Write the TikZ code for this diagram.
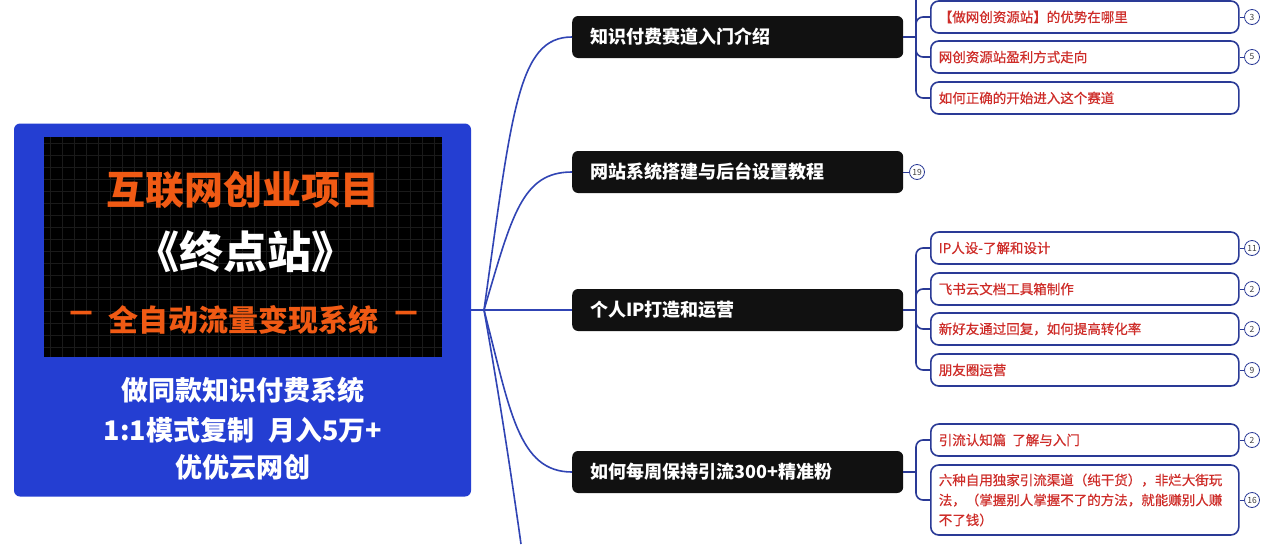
\documentclass[tikz,border=0pt]{standalone}
\usepackage{fontspec}
\setmainfont{Noto Sans CJK SC}
\newfontfamily\medfont[FakeBold=0.5]{Noto Sans CJK SC}
\definecolor{rootblue}{RGB}{36,62,210}
\definecolor{linkblue}{RGB}{48,68,180}
\definecolor{subborder}{RGB}{42,58,150}
\definecolor{subred}{RGB}{206,44,40}
\definecolor{mainblack}{RGB}{17,17,17}
\definecolor{titleorange}{RGB}{240,90,20}
\definecolor{gridgray}{RGB}{26,26,26}
\tikzset{
  mainbox/.style={fill=mainblack, rounded corners=6pt, text=white,
    font=\fontsize{18}{22}\selectfont\bfseries, minimum height=42pt,
    text width=295pt, inner xsep=18pt, align=left, anchor=west},
  subbox/.style={draw=subborder, line width=1.6pt, fill=white, rounded corners=8pt,
    text=subred, font=\medfont\fontsize{13.5}{20}\selectfont, minimum height=32pt,
    text width=292pt, inner xsep=8pt, align=left, anchor=west},
  cnt/.style={circle, draw=subborder, line width=0.8pt, fill=white, minimum size=15pt,
    inner sep=0pt, font=\fontsize{8.5}{8.5}\selectfont, text=black!75},
  link/.style={draw=linkblue, line width=1.6pt},
  sublink/.style={draw=subborder, line width=1.6pt, rounded corners=7pt},
  cntlink/.style={draw=subborder, line width=0.8pt},
  orangetxt/.style={text=titleorange, font=\fontsize{#1}{#1}\selectfont\bfseries},
  whitetxt/.style={text=white, font=\fontsize{#1}{#1}\selectfont\bfseries},
}
\begin{document}
\begin{tikzpicture}[x=1pt,y=-1pt]
\useasboundingbox[fill=white] (0,0) rectangle (1278,544);

% root
\node[fill=rootblue, rounded corners=6pt, minimum width=457pt, minimum height=373pt, inner sep=0pt] (root) at (242.5,310) {};
\node[fill=black, minimum width=398pt, minimum height=220pt, inner sep=0pt] (img) at (243,247) {};
\foreach \gx in {50,62,...,440} \draw[gridgray, line width=0.4pt] (\gx,137) -- (\gx,357);
\foreach \gy in {143,155,...,355} \draw[gridgray, line width=0.4pt] (44,\gy) -- (442,\gy);
\node[orangetxt=39] (t1) at (243,190) {互联网创业项目};
\node[whitetxt=44] (t2) at (245,252) {《终点站》};
\node[orangetxt=30] (t3) at (243,320) {全自动流量变现系统};
\node[orangetxt=30] (d1) at (81,318) {－};
\node[orangetxt=30] (d2) at (406,318) {－};
\node[whitetxt=27] (w1) at (243,390) {做同款知识付费系统};
\node[whitetxt=27] (w2) at (243,430) {1:1模式复制\hspace{14pt}月入5万+};
\node[whitetxt=27] (w3) at (243,467) {优优云网创};

% hub and main branches
\coordinate (hub) at (484,310);
\node[mainbox] (m1) at (572,37) {知识付费赛道入门介绍};
\node[mainbox] (m2) at (572,172) {网站系统搭建与后台设置教程};
\node[mainbox] (m3) at (572,310) {个人IP打造和运营};
\node[mainbox] (m4) at (572,472) {如何每周保持引流300+精准粉};
\coordinate (m5end) at (521,544);

\draw[link] (root.east) -- (hub);
\draw[link] (hub) .. controls (512,110) and (518,37) .. (m1.west);
\draw[link] (hub) .. controls (512,215) and (522,172) .. (m2.west);
\draw[link] (hub) -- (m3.west);
\draw[link] (hub) .. controls (510,410) and (518,472) .. (m4.west);
\draw[link] (hub) .. controls (500,400) and (512,480) .. (m5end);

% group 1
\node[subbox] (s11) at (930,17) {【做网创资源站】的优势在哪里};
\node[subbox] (s12) at (930,57) {网创资源站盈利方式走向};
\node[subbox] (s13) at (930,98) {如何正确的开始进入这个赛道};
\coordinate (j1) at (916,37);
\coordinate (j1top) at (916,0);
\draw[sublink] (m1.east) -- (j1);
\draw[sublink] (j1) -- (j1top);
\draw[sublink] (j1) |- (s11.west);
\draw[sublink] (j1) |- (s12.west);
\draw[sublink] (j1) |- (s13.west);
\node[cnt] (c11) at (1252,17) {3};
\node[cnt] (c12) at (1252,57) {5};
\draw[cntlink] (s11.east) -- (c11.west);
\draw[cntlink] (s12.east) -- (c12.west);

% group 2
\node[cnt] (c2) at (917,172) {19};
\draw[cntlink] (m2.east) -- (c2.west);

% group 3
\node[subbox] (s31) at (930,248) {IP人设-了解和设计};
\node[subbox] (s32) at (930,289) {飞书云文档工具箱制作};
\node[subbox] (s33) at (930,329) {新好友通过回复，如何提高转化率};
\node[subbox] (s34) at (930,370) {朋友圈运营};
\coordinate (j3) at (916,310);
\draw[sublink] (m3.east) -- (j3);
\foreach \s in {s31,s32,s33,s34} \draw[sublink] (j3) |- (\s.west);
\node[cnt] (c31) at (1252,248) {11};
\node[cnt] (c32) at (1252,289) {2};
\node[cnt] (c33) at (1252,329) {2};
\node[cnt] (c34) at (1252,370) {9};
\draw[cntlink] (s31.east) -- (c31.west);
\draw[cntlink] (s32.east) -- (c32.west);
\draw[cntlink] (s33.east) -- (c33.west);
\draw[cntlink] (s34.east) -- (c34.west);

% group 4
\node[subbox] (s41) at (930,440) {引流认知篇\hspace{6pt}了解与入门};
\node[subbox, minimum height=70pt] (s42) at (930,500) {六种自用独家引流渠道（纯干货），非烂大街玩\\法，（掌握别人掌握不了的方法，就能赚别人赚\\不了钱）};
\coordinate (j4) at (916,472);
\draw[sublink] (m4.east) -- (j4);
\draw[sublink] (j4) |- (s41.west);
\draw[sublink] (j4) |- (s42.west);
\node[cnt] (c41) at (1252,440) {2};
\node[cnt] (c42) at (1252,500) {16};
\draw[cntlink] (s41.east) -- (c41.west);
\draw[cntlink] (s42.east) -- (c42.west);
\end{tikzpicture}
\end{document}
